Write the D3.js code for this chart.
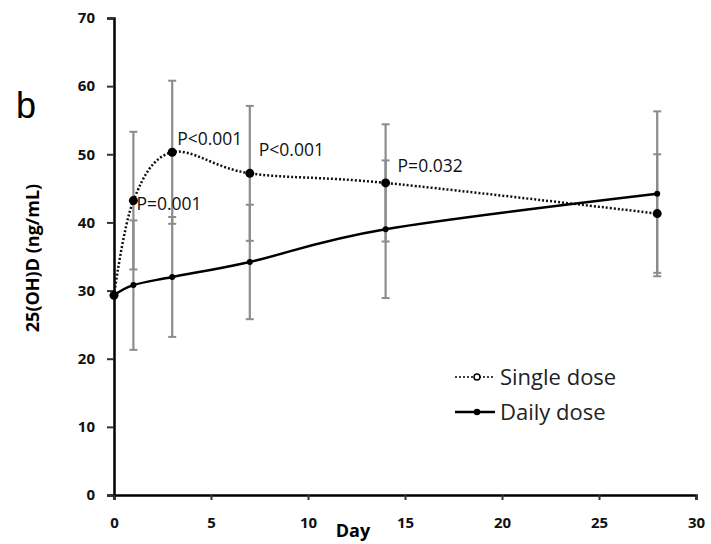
<!DOCTYPE html>
<html>
<head>
<meta charset="utf-8">
<script src="https://cdn.jsdelivr.net/npm/d3@7"></script>
<style>
  body { margin: 0; background: #fff; }
  text { font-family: "Open Sans", sans-serif; }
</style>
</head>
<body>
<div id="chart"></div>
<script>
// values
var days = [0, 1, 3, 7, 14, 28];
var singleMean = [29.3, 43.2, 50.3, 47.2, 45.8, 41.3];
var singleSD = [null, 10.1, 10.5, 9.9, 8.6, 8.7];
var dailyMean = [29.3, 30.8, 32.0, 34.2, 39.0, 44.2];
var dailySD = [null, 9.5, 8.8, 8.4, 10.1, 12.1];
var xTicks = [0, 5, 10, 15, 20, 25, 30];
var yTicks = [0, 10, 20, 30, 40, 50, 60, 70];
var pLabels = [
    { day: 1, value: 43.2, text: "P=0.001" },
    { day: 3, value: 50.3, text: "P<0.001" },
    { day: 7, value: 47.2, text: "P<0.001" },
    { day: 14, value: 45.8, text: "P=0.032" }
];
var legendText = ["Single dose", "Daily dose"];

var width = 711;
var height = 544;
var margin = { top: 18, right: 15, bottom: 49, left: 114 };

var svg = d3.select("#chart")
    .append("svg")
    .attr("width", width)
    .attr("height", height);

var x = d3.scaleLinear().domain([0, 30]).range([margin.left, width - margin.right]);
var y = d3.scaleLinear().domain([0, 70]).range([height - margin.bottom, margin.top]);

var single = days.map(function (d, i) { return { day: d, mean: singleMean[i], sd: singleSD[i] }; });
var daily = days.map(function (d, i) { return { day: d, mean: dailyMean[i], sd: dailySD[i] }; });

// error bars (grey, drawn first)
function errorBars(data) {
    var g = svg.append("g").attr("stroke", "#8c8c8c").attr("stroke-width", 2.2);
    data.filter(function (d) { return d.sd != null; }).forEach(function (d) {
        var cx = x(d.day);
        g.append("line")
            .attr("x1", cx).attr("x2", cx)
            .attr("y1", y(d.mean - d.sd)).attr("y2", y(d.mean + d.sd));
        [d.mean - d.sd, d.mean + d.sd].forEach(function (v) {
            g.append("line")
                .attr("x1", cx - 4).attr("x2", cx + 4)
                .attr("y1", y(v)).attr("y2", y(v))
                .attr("stroke-width", 2);
        });
    });
}
errorBars(single);
errorBars(daily);

// axes
var yAxis = svg.append("g")
    .attr("transform", "translate(" + margin.left + ",0)")
    .call(d3.axisLeft(y).tickValues(yTicks).tickSize(7).tickPadding(12));
var xAxis = svg.append("g")
    .attr("transform", "translate(0," + (height - margin.bottom) + ")")
    .call(d3.axisBottom(x).tickValues(xTicks).tickSize(5).tickPadding(17));

[yAxis, xAxis].forEach(function (a) {
    a.select(".domain").attr("stroke", "#000").attr("stroke-width", 2.5);
    a.selectAll(".tick line").attr("stroke", "#333").attr("stroke-width", 2);
    a.selectAll(".tick text")
        .attr("fill", "#111")
        .style("font-size", "15px")
        .style("font-weight", "bold");
});

// lines
var line = d3.line()
    .x(function (d) { return x(d.day); })
    .y(function (d) { return y(d.mean); })
    .curve(d3.curveCardinal.tension(0));

svg.append("path")
    .datum(single)
    .attr("d", line)
    .attr("fill", "none")
    .attr("stroke", "#111")
    .attr("stroke-width", 2.5)
    .attr("stroke-dasharray", "2,2");

svg.append("path")
    .datum(daily)
    .attr("d", line)
    .attr("fill", "none")
    .attr("stroke", "#000")
    .attr("stroke-width", 2.5);

svg.selectAll("circle.single")
    .data(single)
    .enter()
    .append("circle")
    .attr("class", "single")
    .attr("cx", function (d) { return x(d.day); })
    .attr("cy", function (d) { return y(d.mean); })
    .attr("r", 4.5)
    .style("fill", "#000");

svg.selectAll("circle.daily")
    .data(daily)
    .enter()
    .append("circle")
    .attr("class", "daily")
    .attr("cx", function (d) { return x(d.day); })
    .attr("cy", function (d) { return y(d.mean); })
    .attr("r", 3)
    .style("fill", "#000");

// p-value labels, nudged off their points
var pdx = [3, 5, 9, 12];
var pdy = [9, -7, -17, -11];
svg.selectAll("text.pval")
    .data(pLabels)
    .enter()
    .append("text")
    .attr("class", "pval")
    .attr("x", function (d, i) { return x(d.day) + pdx[i]; })
    .attr("y", function (d, i) { return y(d.value) + pdy[i]; })
    .style("font-size", "17.5px")
    .attr("fill", "#111")
    .text(function (d) { return d.text; });

// axis titles
svg.append("text")
    .attr("x", 353)
    .attr("y", 537)
    .attr("text-anchor", "middle")
    .style("font-size", "18px")
    .style("font-weight", "bold")
    .text("Day");

svg.append("text")
    .attr("transform", "translate(39,258) rotate(-90)")
    .attr("text-anchor", "middle")
    .style("font-size", "18px")
    .style("font-weight", "bold")
    .text("25(OH)D (ng/mL)");

svg.append("text")
    .attr("x", 16)
    .attr("y", 118)
    .style("font-family", "'Liberation Sans', Arial, sans-serif")
    .style("font-size", "36px")
    .text("b");

// legend
var legend = svg.append("g")
    .selectAll("g")
    .data(legendText)
    .enter()
    .append("g")
    .attr("transform", function (d, i) { return "translate(455," + (377 + i * 35) + ")"; });

legend.append("line")
    .attr("x1", 0).attr("x2", 40)
    .attr("stroke", "#000")
    .attr("stroke-width", function (d, i) { return i == 0 ? 1.5 : 2.5; })
    .attr("stroke-dasharray", function (d, i) { return i == 0 ? "2,2" : null; });

legend.append("circle")
    .attr("cx", 22)
    .attr("r", function (d, i) { return i == 0 ? 3 : 2.5; })
    .attr("fill", function (d, i) { return i == 0 ? "#fff" : "#000"; })
    .attr("stroke", "#000")
    .attr("stroke-width", 1.5);

legend.append("text")
    .attr("x", 45)
    .attr("dy", "0.35em")
    .style("font-size", "22px")
    .attr("fill", "#222")
    .text(function (d) { return d; });
</script>
</body>
</html>
